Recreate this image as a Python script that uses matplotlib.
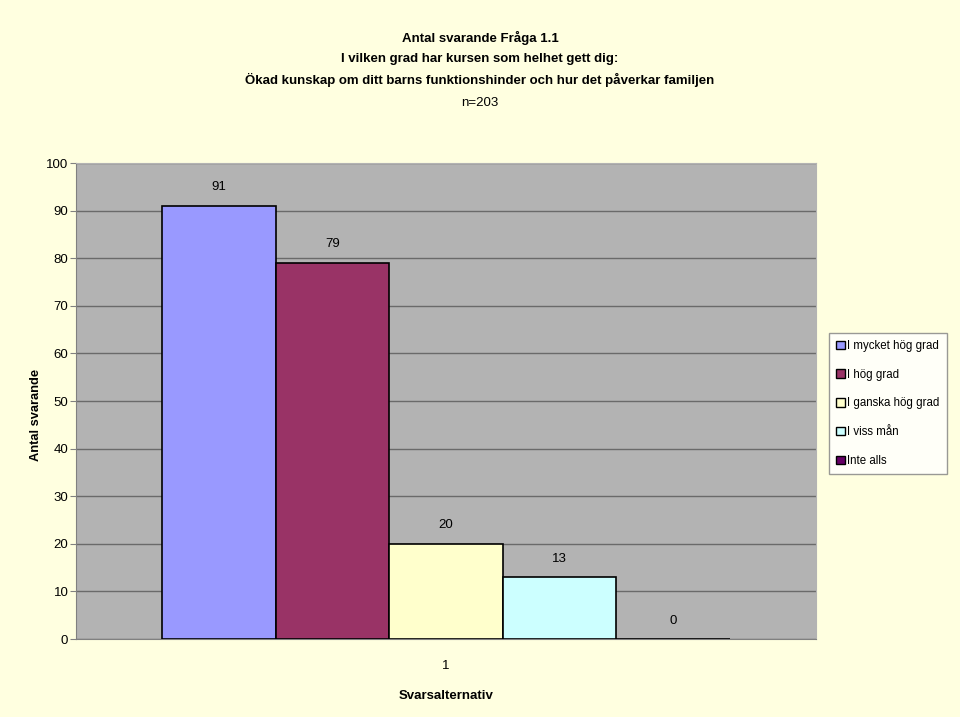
import matplotlib
matplotlib.use("Agg")
import matplotlib.pyplot as plt
from matplotlib.patches import Patch

plt.rcParams['font.family'] = ['Liberation Sans', 'DejaVu Sans']

# data
kategori = ["1"]
serier = ["I mycket hög grad", "I hög grad", "I ganska hög grad", "I viss mån", "Inte alls"]
antal = [91, 79, 20, 13, 0]
farger = ["#9999ff", "#993366", "#ffffcc", "#ccffff", "#660066"]

titel = ["Antal svarande Fråga 1.1",
         "I vilken grad har kursen som helhet gett dig:",
         "Ökad kunskap om ditt barns funktionshinder och hur det påverkar familjen",
         "n=203"]

bg = "#ffffe0"
fig = plt.figure(figsize=(9.6, 7.17), dpi=100, facecolor=bg)
ax = fig.add_axes([76 / 960, 1 - 639 / 717, 740 / 960, 476 / 717])
ax.set_facecolor("#b3b3b3")

bredd = 0.1534
start = 0.5 - 2.5 * bredd
for i, (namn, v, c) in enumerate(zip(serier, antal, farger)):
    x = start + (i + 0.5) * bredd
    ax.bar(x, v, width=bredd, color=c, edgecolor="black", linewidth=1.2, zorder=3)
    ax.annotate(str(v), (x, v), xytext=(0, 9), textcoords="offset points",
                ha="center", va="bottom", fontsize=9.5)

ax.set_xlim(0, 1)
ax.set_ylim(0, 100)
ax.set_yticks(range(0, 101, 10))
ax.yaxis.grid(True, color="#6a6a6a", linewidth=1, zorder=1)
ax.set_xticks([0.5])
ax.set_xticklabels(kategori, fontsize=9.5)
ax.tick_params(axis="x", length=0, pad=15)
ax.tick_params(axis="y", length=4, color="#808080", labelsize=9.5, pad=1.5)
for s in ["top", "right"]:
    ax.spines[s].set_color("#b3b3b3")
for s in ["left", "bottom"]:
    ax.spines[s].set_color("#808080")

ax.set_xlabel("Svarsalternativ", fontsize=9.5, fontweight="bold", labelpad=13)
fig.text(36 / 960, 1 - 415 / 717, "Antal svarande", rotation=90, fontsize=9.3,
         fontweight="bold", ha="center", va="center")

ypos = [38, 59, 80, 103]
for i, (t, y) in enumerate(zip(titel, ypos)):
    fig.text(480 / 960, 1 - y / 717, t, ha="center", va="center", fontsize=9.5,
             fontweight="bold" if i < 3 else "normal")

handles = [Patch(facecolor=c, edgecolor="black") for c in farger]
leg = fig.legend(handles, serier, loc="upper left", bbox_to_anchor=(829 / 960, 1 - 333 / 717),
                 fontsize=8.3, frameon=True, fancybox=False, handlelength=0.75, handleheight=0.75,
                 handletextpad=0.25, labelspacing=1.45, borderpad=0.6, borderaxespad=0)
leg.get_frame().set_edgecolor("#808080")
leg.get_frame().set_facecolor("white")
leg.get_frame().set_linewidth(1.0)

plt.savefig("out.png", dpi=100, facecolor=bg)
